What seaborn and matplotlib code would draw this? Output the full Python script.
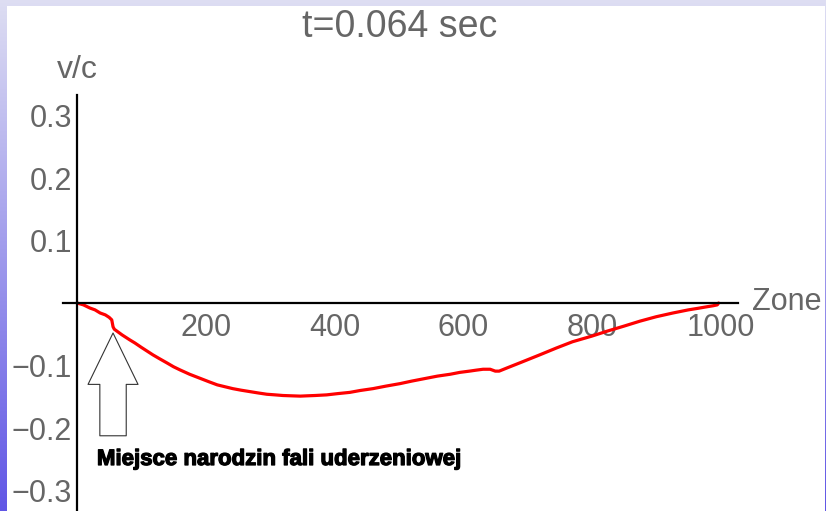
import numpy as np
import seaborn as sns
import matplotlib.pyplot as plt
import matplotlib.patheffects as pe
from matplotlib.patches import Rectangle

# data
zone = [0, 10, 20, 28, 36, 44, 50, 54, 56, 58, 70, 82, 90, 100, 118, 128, 140,
        150, 160, 175, 190, 205, 218, 230, 242, 255, 270, 282, 295, 308, 320,
        333, 347, 358, 370, 388, 405, 424, 440, 460, 480, 502, 520, 540, 560,
        580, 595, 610, 620, 631, 642, 650, 656, 668, 690, 719, 745, 770, 800,
        824, 850, 875, 900, 926, 950, 965, 979, 988, 995, 997]
vc = [0.0, -0.003, -0.008, -0.011, -0.016, -0.019, -0.023, -0.027, -0.038, -0.042,
      -0.051, -0.059, -0.064, -0.071, -0.083, -0.089, -0.096, -0.102, -0.107,
      -0.114, -0.120, -0.126, -0.131, -0.134, -0.137, -0.1395, -0.142, -0.144,
      -0.146, -0.147, -0.148, -0.1485, -0.149, -0.1485, -0.148, -0.147, -0.145,
      -0.143, -0.140, -0.137, -0.133, -0.129, -0.125, -0.121, -0.117, -0.114,
      -0.111, -0.109, -0.1075, -0.106, -0.106, -0.109, -0.109, -0.104, -0.095,
      -0.083, -0.072, -0.062, -0.053, -0.045, -0.037, -0.029, -0.022, -0.016,
      -0.011, -0.0085, -0.006, -0.0045, -0.003, 0.0]
xticks = [200, 400, 600, 800, 1000]
yticks = [-0.3, -0.2, -0.1, 0.1, 0.2, 0.3]
ytick_labels = ['\u22120.3', '\u22120.2', '\u22120.1', '0.1', '0.2', '0.3']
shock_zone, shock_vc = 56, -0.048
title = 't=0.064 sec'
note = 'Miejsce narodzin fali uderzeniowej'

sns.set_style('white')
plt.rcParams['font.family'] = ['Liberation Sans', 'DejaVu Sans']
gray = '#666666'

W, H = 826, 511
fig = plt.figure(figsize=(W / 100, H / 100), dpi=100)

# lavender/blue slide background with white panel
bg = fig.add_axes([0, 0, 1, 1])
grad = np.linspace(0, 1, 256)[:, None]
c_top = np.array([0.87, 0.87, 0.95])
c_bot = np.array([0.38, 0.34, 0.90])
img = c_top[None, None, :] * (1 - grad[..., None]) + c_bot[None, None, :] * grad[..., None]
bg.imshow(np.repeat(img, 2, axis=1), aspect='auto', extent=[0, 1, 0, 1])
bg.add_patch(Rectangle((7 / W, 0), 818 / W, 505 / H, transform=bg.transAxes,
                       fc='white', ec='none'))
bg.axis('off')

# main axes placed so that the spines cross at the right pixel
x0_px, sx = 77, 0.6435
y0_px, sy = 303, 625
xlim = (-22, 1027)
ylim = (-0.345, 0.333)
left = (x0_px + xlim[0] * sx) / W
right = (x0_px + xlim[1] * sx) / W
top = (H - (y0_px - ylim[1] * sy)) / H
bottom = (H - (y0_px - ylim[0] * sy)) / H
ax = fig.add_axes([left, bottom, right - left, top - bottom])
ax.patch.set_alpha(0)

sns.lineplot(x=zone, y=vc, ax=ax, color='#ff0000', linewidth=2.3)

ax.set_xlim(*xlim)
ax.set_ylim(*ylim)
ax.spines['left'].set_position(('data', 0))
ax.spines['bottom'].set_position(('data', 0))
for s in ['top', 'right']:
    ax.spines[s].set_visible(False)
for s in ['left', 'bottom']:
    ax.spines[s].set_linewidth(1.6)
    ax.spines[s].set_color('black')
ax.set_xticks(xticks)
ax.set_xticklabels([str(t) for t in xticks])
ax.set_yticks(yticks)
ax.set_yticklabels(ytick_labels)
ax.tick_params(axis='both', length=0, labelsize=22, labelcolor=gray)
ax.tick_params(axis='x', pad=7)
ax.tick_params(axis='y', pad=3.5)

# hollow arrow pointing at the shock birth place
ax.annotate('', xy=(shock_zone, shock_vc), xytext=(0, -74), textcoords='offset points',
            arrowprops=dict(arrowstyle='simple,head_length=37,head_width=36,tail_width=19',
                            mutation_scale=1, fc='white', ec='#333333', lw=0.8,
                            shrinkA=0, shrinkB=0))
ax.text(31, -0.2592, note, fontsize=16, fontweight='bold', color='black',
        ha='left', va='baseline',
        path_effects=[pe.withStroke(linewidth=0.9, foreground='black')])

fig.text(400 / W, 1 - 27 / H, title, fontsize=27, color=gray, ha='center', va='center')
fig.text(752 / W, 1 - 302 / H, 'Zone', fontsize=22, color=gray, ha='left', va='center')
fig.text(77 / W, 1 - 70 / H, 'v/c', fontsize=23, color=gray, ha='center', va='center')

fig.savefig('out.png', dpi=100)
